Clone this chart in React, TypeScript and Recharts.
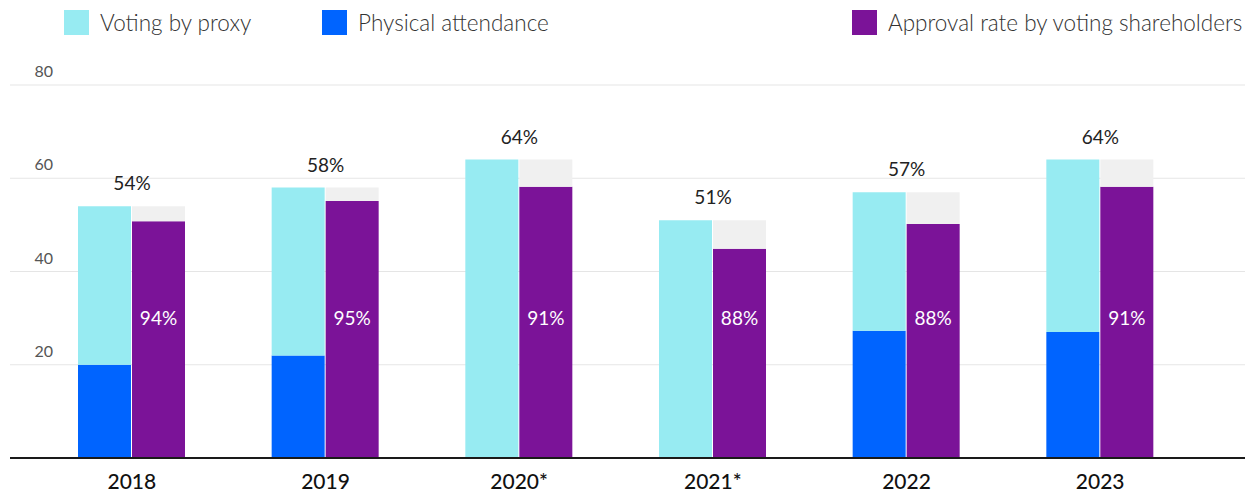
import { BarChart, Bar, XAxis, YAxis, CartesianGrid, LabelList } from "recharts";

// years on the x axis
const years = ["2018", "2019", "2020*", "2021*", "2022", "2023"];
// turnout, % of shares (label above each pair)
const turnout = [54, 58, 64, 51, 57, 64];
// approval rate among voting shareholders, %
const approvalRate = [94, 95, 91, 88, 88, 91];
// left stack
const physical = [20, 22, 0, 0, 27.3, 27];
const proxy = [34, 36, 64, 51, 29.7, 37];
// right stack
const approved = [50.8, 55.1, 58.2, 44.9, 50.2, 58.2];
const notApproved = [3.2, 2.9, 5.8, 6.1, 6.8, 5.8];

const yTicks = [0, 20, 40, 60, 80];

const CYAN = "#97ebf2";
const BLUE = "#0064ff";
const PURPLE = "#7b1398";
const REST = "#f0f0f0";
const FONT = "Lato, 'Open Sans', sans-serif";

const data = years.map((year, i) => ({
  year,
  physical: physical[i],
  proxy: proxy[i],
  approved: approved[i],
  notApproved: notApproved[i],
}));

function YTick(props: any) {
  const { y, payload } = props;
  if (payload.value === 0) return null;
  return (
    <text x={53} y={y - 8} textAnchor="end" fill="#555" fontSize={16} fontFamily={FONT}>
      {payload.value}
    </text>
  );
}

function XTick(props: any) {
  const { x, y, payload } = props;
  return (
    <text x={x} y={y + 23} textAnchor="middle" fill="#111" fontSize={21} fontFamily={FONT} fontWeight={500}>
      {payload.value}
    </text>
  );
}

function TurnoutLabel(props: any) {
  const { x, y, index } = props;
  return (
    <text x={x} y={y - 16} textAnchor="middle" fill="#222" fontSize={19} fontFamily={FONT}>
      {turnout[index]}%
    </text>
  );
}

function ApprovalLabel(props: any) {
  const { x, y, width, height, index } = props;
  return (
    <text x={x + width / 2} y={y + height - 133} textAnchor="middle" fill="#fff" fontSize={19} fontFamily={FONT}>
      {approvalRate[index]}%
    </text>
  );
}

const legendItems = [
  { label: "Voting by proxy", color: CYAN, left: 64 },
  { label: "Physical attendance", color: BLUE, left: 322 },
  { label: "Approval rate by voting shareholders", color: PURPLE, left: 852 },
];

export default function App() {
  return (
    <div style={{ position: "relative", width: 1245, height: 495, overflow: "hidden", fontFamily: FONT }}>
      <style>{"body{margin:0;overflow:hidden}"}</style>
      {legendItems.map((it) => (
        <div
          key={it.label}
          style={{ position: "absolute", left: it.left, top: 10, display: "flex", alignItems: "center", height: 25 }}
        >
          <div style={{ width: 25, height: 25, background: it.color, marginRight: 11 }} />
          <span style={{ fontSize: 22.5, fontWeight: 300, color: "#333", whiteSpace: "nowrap" }}>{it.label}</span>
        </div>
      ))}
      <BarChart
        width={1245}
        height={495}
        data={data}
        margin={{ top: 85, right: 0, left: 0, bottom: 0 }}
        barSize={53}
        barGap={1}
      >
        <XAxis
          dataKey="year"
          height={37}
          padding={{ left: 25, right: 48 }}
          axisLine={{ stroke: "#1a1a1a", strokeWidth: 2 }}
          tickLine={false}
          tick={<XTick />}
          interval={0}
        />
        <YAxis width={10} domain={[0, 80]} ticks={yTicks} axisLine={false} tickLine={false} tick={<YTick />} />
        <Bar dataKey="physical" stackId="a" fill={BLUE} isAnimationActive={false} />
        <Bar dataKey="proxy" stackId="a" fill={CYAN} isAnimationActive={false} />
        <Bar dataKey="approved" stackId="b" fill={PURPLE} isAnimationActive={false}>
          <LabelList content={<ApprovalLabel />} />
        </Bar>
        <Bar dataKey="notApproved" stackId="b" fill={REST} isAnimationActive={false}>
          <LabelList content={<TurnoutLabel />} />
        </Bar>
        <CartesianGrid horizontal vertical={false} stroke="#000" strokeOpacity={0.1} />
      </BarChart>
    </div>
  );
}
